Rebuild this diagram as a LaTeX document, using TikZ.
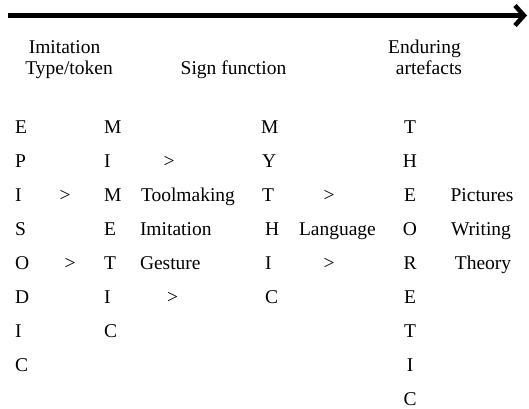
\documentclass[tikz,border=0pt]{standalone}
\usepackage{fontspec}
\setmainfont{Liberation Serif}
\usetikzlibrary{arrows.meta}
\tikzset{
  lbl/.style={inner sep=0pt, outer sep=0pt, font=\fontsize{19.5}{22.4}\selectfont},
  timeline/.style={line width=4.5pt, -{Straight Barb[length=9pt, width=20pt]}}
}
% row baseline: 133 + 34 k
\newcommand{\rowy}[1]{133+34*#1}
\begin{document}
\begin{tikzpicture}[x=1pt, y=-1pt]
\useasboundingbox (0,0) rectangle (529,408);

% time axis
\coordinate (tstart) at (8,15.5);
\coordinate (tend) at (527,15.5);
\draw[timeline] (tstart) -- (tend);

% column headings
\node[lbl, anchor=base] (h1a) at (64.5,53.5) {Imitation};
\node[lbl, anchor=base] (h1b) at (69,74.5) {Type/token};
\node[lbl, anchor=base] (h2) at (233.5,74.5) {Sign function};
\node[lbl, anchor=base] (h3a) at (424.5,53.5) {Enduring};
\node[lbl, anchor=base] (h3b) at (429,74.5) {artefacts};

% EPISODIC
\foreach \c [count=\k from 0] in {E,P,I,S,O,D,I,C}
  \node[lbl, anchor=base west] (ep\k) at (15,{\rowy{\k}}) {\c};
% MIMETIC
\foreach \c [count=\k from 0] in {M,I,M,E,T,I,C}
  \node[lbl, anchor=base west] (mi\k) at (104,{\rowy{\k}}) {\c};
% MYTHIC
\foreach \c/\xx [count=\k from 0] in {M/261,Y/262,T/262,H/265,I/265,C/265}
  \node[lbl, anchor=base west] (my\k) at (\xx,{\rowy{\k}}) {\c};
% THEORETIC
\foreach \c [count=\k from 0] in {T,H,E,O,R,E,T,I,C}
  \node[lbl, anchor=base] (th\k) at (410,{\rowy{\k}}) {\c};

% transitions
\node[lbl, anchor=base] (g1) at (65,{\rowy{2}}) {>};
\node[lbl, anchor=base] (g2) at (70,{\rowy{4}}) {>};
\node[lbl, anchor=base] (g3) at (169,{\rowy{1}}) {>};
\node[lbl, anchor=base] (g4) at (172.5,{\rowy{5}}) {>};
\node[lbl, anchor=base] (g5) at (329,{\rowy{2}}) {>};
\node[lbl, anchor=base] (g6) at (329,{\rowy{4}}) {>};

% inventions
\node[lbl, anchor=base west] (tool) at (141,{\rowy{2}}) {Toolmaking};
\node[lbl, anchor=base west] (imit) at (140,{\rowy{3}}) {Imitation};
\node[lbl, anchor=base west] (gest) at (140,{\rowy{4}}) {Gesture};
\node[lbl, anchor=base west] (lang) at (299,{\rowy{3}}) {Language};
\node[lbl, anchor=base] (pict) at (482,{\rowy{2}}) {Pictures};
\node[lbl, anchor=base] (writ) at (481,{\rowy{3}}) {Writing};
\node[lbl, anchor=base] (theo) at (483,{\rowy{4}}) {Theory};
\end{tikzpicture}
\end{document}
